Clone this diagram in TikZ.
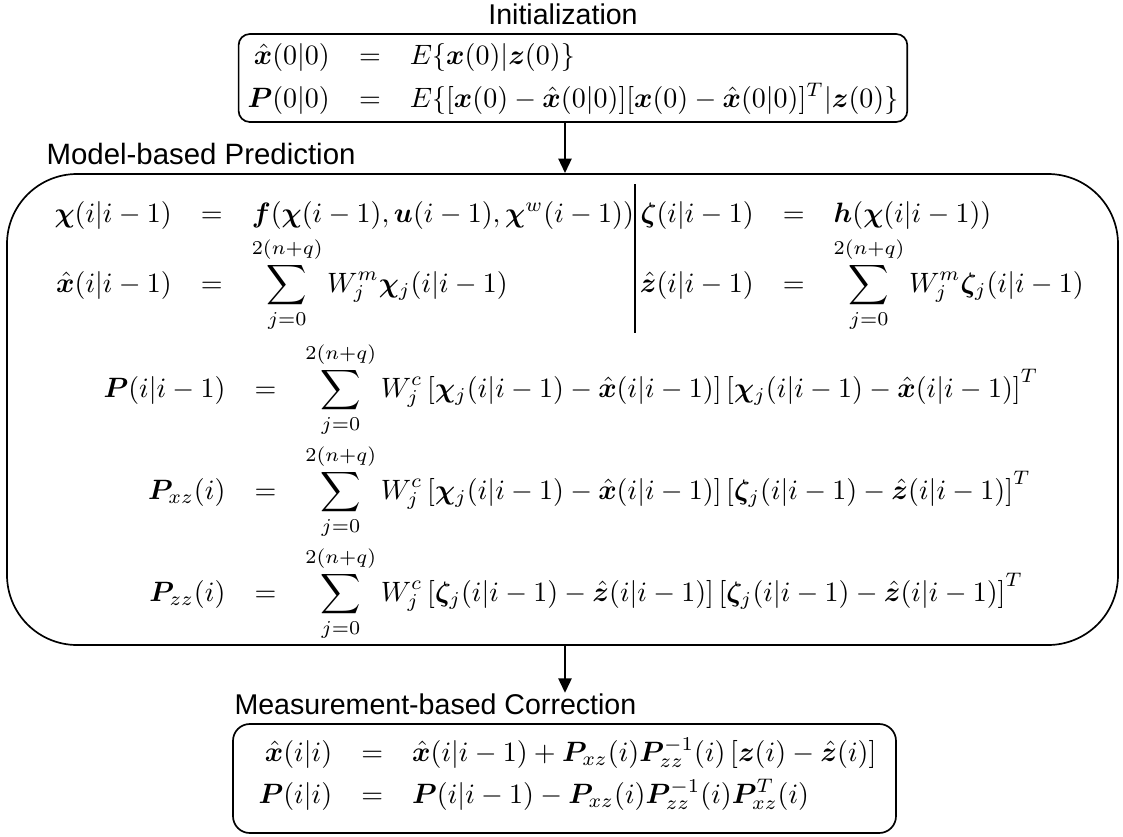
\documentclass[tikz,border=0pt]{standalone}
\usepackage{amsmath,bm}
\usepackage{fontspec}
\setsansfont{Liberation Sans}
\usetikzlibrary{arrows.meta,fit}
\tikzset{
  lbl/.style={font=\sffamily\fontsize{10.2}{12}\selectfont, inner sep=0pt},
  mth/.style={inner sep=0pt},
  box/.style={draw, line width=0.6pt},
  arr/.style={line width=1pt, -{Triangle[width=4.6pt,length=5.2pt]}},
  divline/.style={line width=0.9pt},
}
\begin{document}
\begin{tikzpicture}[x=0.357pt, y=-0.357pt]
\useasboundingbox (0,0) rectangle (1123,837);
\fill[white] (0,0) rectangle (1123,837);

% ---------- Initialization ----------
\node[lbl] (tInit) at (563,14) {Initialization};
\node[mth, anchor=base west] (iPl) at (247,107) {$\bm{P}(0|0)$};
\node[mth, anchor=base west] (iPe) at ([xshift=10pt]iPl.base east) {$=$};
\node[mth, anchor=base west] (iPr) at ([xshift=10pt]iPe.base east) {$E\{[\bm{x}(0)-\hat{\bm{x}}(0|0)][\bm{x}(0)-\hat{\bm{x}}(0|0)]^T|\bm{z}(0)\}$};
\coordinate (ir1) at (0,64);
\node[mth, anchor=base] (iXe) at (iPe.base |- ir1) {$=$};
\node[mth, anchor=base east] (iXl) at ([xshift=-10pt]iXe.base west) {$\hat{\bm{x}}(0|0)$};
\node[mth, anchor=base west] (iXr) at ([xshift=10pt]iXe.base east) {$E\{\bm{x}(0)|\bm{z}(0)\}$};
\coordinate (iT) at (400,34);
\coordinate (iB) at (400,122);
\node[box, rounded corners=4pt, inner xsep=3pt, inner ysep=0pt, fit=(iT)(iB)(iPl)(iPr)(iXl)(iXr)] (init) {};

% ---------- Model-based Prediction ----------
\node[lbl, anchor=west, font=\sffamily\fontsize{10.5}{12}\selectfont] (tPred) at (46,154) {Model-based Prediction};
\coordinate (bTL) at (7,174);
\coordinate (bBR) at (1118,645);
\node[box, rounded corners=25pt, inner sep=0pt, fit=(bTL)(bBR)] (pred) {};

\coordinate (ax) at (565,0);
\draw[arr] (init.south -| ax) -- (pred.north -| ax);

% left top block
\node[mth, anchor=base west] (aL1) at (54,222) {$\bm{\chi}(i|i-1)$};
\node[mth, anchor=base west] (aE1) at ([xshift=10pt]aL1.base east) {$=$};
\node[mth, anchor=base west] (aR1) at ([xshift=10pt]aE1.base east) {$\bm{f}(\bm{\chi}(i-1),\bm{u}(i-1),\bm{\chi}^w(i-1))$};
\coordinate (a2) at (0,292);
\node[mth, anchor=base] (aE2) at (aE1.base |- a2) {$=$};
\node[mth, anchor=base east] (aL2) at ([xshift=-10pt]aE2.base west) {$\hat{\bm{x}}(i|i-1)$};
\node[mth, anchor=base west] (aR2) at ([xshift=10pt]aE2.base east) {$\displaystyle\sum_{j=0}^{2(n+q)} W_j^m\bm{\chi}_j(i|i-1)$};

% divider
\coordinate (dT) at (635,184);
\coordinate (dB) at (635,333);
\draw[divline] (dT) -- (dB);

% right top block
\node[mth, anchor=base west] (bL1) at (640,222) {$\bm{\zeta}(i|i-1)$};
\node[mth, anchor=base west] (bE1) at ([xshift=10pt]bL1.base east) {$=$};
\node[mth, anchor=base west] (bR1) at ([xshift=10pt]bE1.base east) {$\bm{h}(\bm{\chi}(i|i-1))$};
\node[mth, anchor=base] (bE2) at (bE1.base |- a2) {$=$};
\node[mth, anchor=base east] (bL2) at ([xshift=-10pt]bE2.base west) {$\hat{\bm{z}}(i|i-1)$};
\node[mth, anchor=base west] (bR2) at ([xshift=10pt]bE2.base east) {$\displaystyle\sum_{j=0}^{2(n+q)} W_j^m\bm{\zeta}_j(i|i-1)$};

% covariance block
\node[mth, anchor=base west] (cL1) at (103,397) {$\bm{P}(i|i-1)$};
\node[mth, anchor=base west] (cE1) at ([xshift=10pt]cL1.base east) {$=$};
\node[mth, anchor=base west] (cR1) at ([xshift=10pt]cE1.base east) {$\displaystyle\sum_{j=0}^{2(n+q)} W_j^c\left[\bm{\chi}_j(i|i-1)-\hat{\bm{x}}(i|i-1)\right]\left[\bm{\chi}_j(i|i-1)-\hat{\bm{x}}(i|i-1)\right]^T$};
\coordinate (c2) at (0,499);
\node[mth, anchor=base] (cE2) at (cE1.base |- c2) {$=$};
\node[mth, anchor=base east] (cL2) at ([xshift=-10pt]cE2.base west) {$\bm{P}_{xz}(i)$};
\node[mth, anchor=base west] (cR2) at ([xshift=10pt]cE2.base east) {$\displaystyle\sum_{j=0}^{2(n+q)} W_j^c\left[\bm{\chi}_j(i|i-1)-\hat{\bm{x}}(i|i-1)\right]\left[\bm{\zeta}_j(i|i-1)-\hat{\bm{z}}(i|i-1)\right]^T$};
\coordinate (c3) at (0,601);
\node[mth, anchor=base] (cE3) at (cE1.base |- c3) {$=$};
\node[mth, anchor=base east] (cL3) at ([xshift=-10pt]cE3.base west) {$\bm{P}_{zz}(i)$};
\node[mth, anchor=base west] (cR3) at ([xshift=10pt]cE3.base east) {$\displaystyle\sum_{j=0}^{2(n+q)} W_j^c\left[\bm{\zeta}_j(i|i-1)-\hat{\bm{z}}(i|i-1)\right]\left[\bm{\zeta}_j(i|i-1)-\hat{\bm{z}}(i|i-1)\right]^T$};

% ---------- Measurement-based Correction ----------
\node[lbl, anchor=west] (tCorr) at (234,704) {Measurement-based Correction};
\draw[arr] (pred.south -| ax) -- (tCorr.north -| ax);
\node[mth, anchor=base west] (eL2) at (258,803) {$\bm{P}(i|i)$};
\node[mth, anchor=base west] (eE2) at ([xshift=10pt]eL2.base east) {$=$};
\node[mth, anchor=base west] (eR2) at ([xshift=10pt]eE2.base east) {$\bm{P}(i|i-1)-\bm{P}_{xz}(i)\bm{P}_{zz}^{-1}(i)\bm{P}_{xz}^T(i)$};
\coordinate (e1) at (0,761);
\node[mth, anchor=base] (eE1) at (eE2.base |- e1) {$=$};
\node[mth, anchor=base east] (eL1) at ([xshift=-10pt]eE1.base west) {$\hat{\bm{x}}(i|i)$};
\node[mth, anchor=base west] (eR1) at ([xshift=10pt]eE1.base east) {$\hat{\bm{x}}(i|i-1)+\bm{P}_{xz}(i)\bm{P}_{zz}^{-1}(i)\left[\bm{z}(i)-\hat{\bm{z}}(i)\right]$};
\coordinate (eTL) at (233,724);
\coordinate (eBR) at (896,833);
\node[box, rounded corners=6pt, inner sep=0pt, fit=(eTL)(eBR)] (corr) {};
\end{tikzpicture}
\end{document}
